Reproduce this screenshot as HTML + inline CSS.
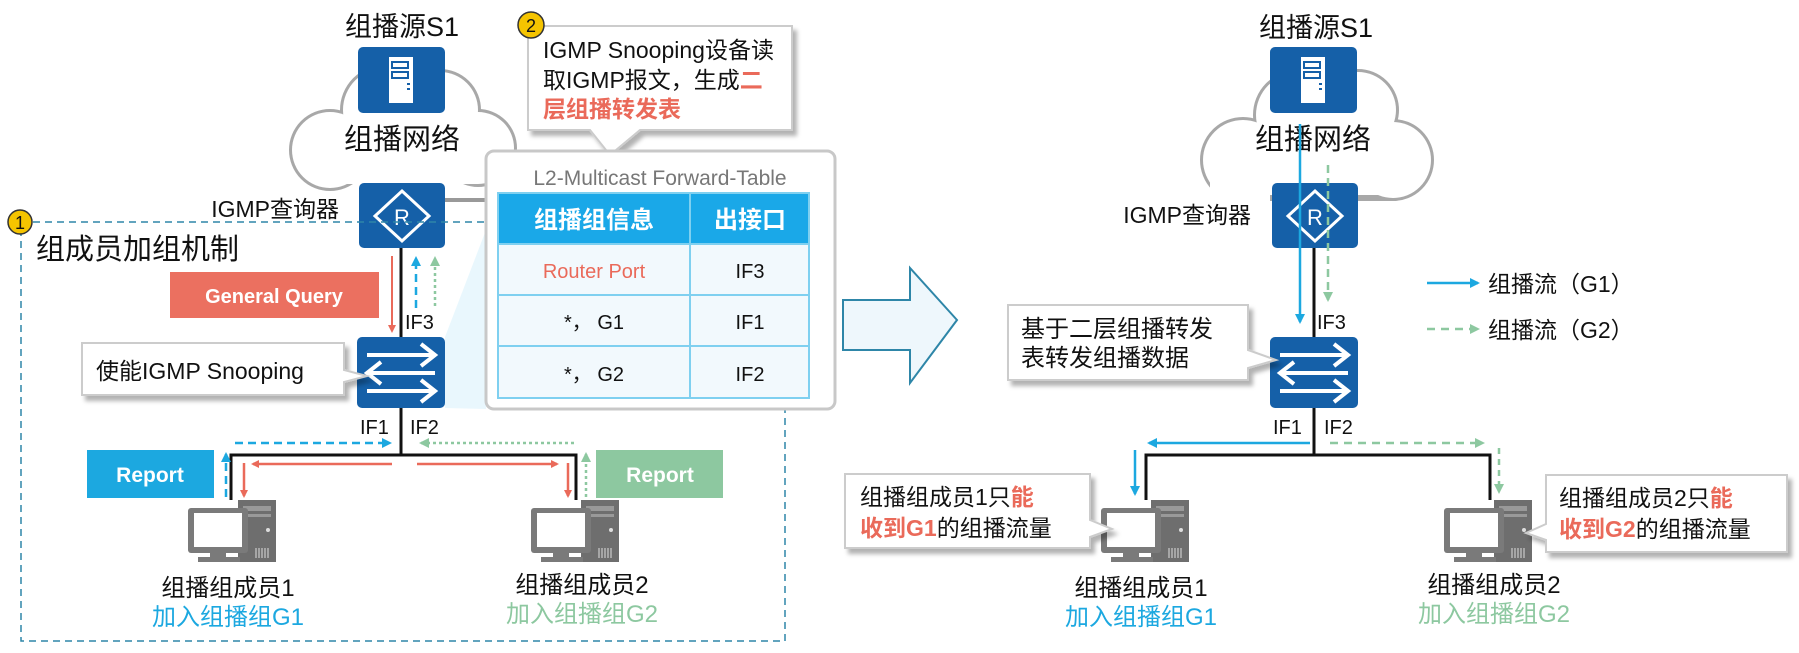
<!DOCTYPE html>
<html><head><meta charset="utf-8"><style>
body{margin:0;background:#fff}
svg text{font-family:"Liberation Sans","Noto Sans CJK SC",sans-serif}
</style></head><body>
<svg width="1799" height="648" viewBox="0 0 1799 648" xmlns="http://www.w3.org/2000/svg">
<defs>
<marker id="ar" markerWidth="8" markerHeight="8" refX="6" refY="4" orient="auto" markerUnits="userSpaceOnUse"><path d="M0,0 L8,4 L0,8z" fill="#ea6a5a"/></marker>
<marker id="ab" markerWidth="10" markerHeight="10" refX="8" refY="5" orient="auto" markerUnits="userSpaceOnUse"><path d="M0,0 L10,5 L0,10z" fill="#1ca8e0"/></marker>
<marker id="ag" markerWidth="10" markerHeight="10" refX="8" refY="5" orient="auto" markerUnits="userSpaceOnUse"><path d="M0,0 L10,5 L0,10z" fill="#8dc8a0"/></marker>
<g id="server"><rect x="0" y="0" width="87" height="66" rx="5" fill="#1560a8"/><rect x="31" y="10" width="24" height="46" fill="#fff"/><rect x="34" y="15" width="16" height="6" fill="none" stroke="#1560a8" stroke-width="2"/><rect x="34" y="25" width="16" height="6" fill="none" stroke="#1560a8" stroke-width="2"/><rect x="49" y="36" width="3" height="2" fill="#1560a8"/><rect x="49" y="41" width="3" height="2" fill="#1560a8"/></g>
<g id="router"><rect x="0" y="0" width="86" height="65" rx="5" fill="#1560a8"/><path d="M43,8 L70,33 L43,58 L16,33z" fill="none" stroke="#fff" stroke-width="3"/><text x="43" y="42" font-size="22" fill="#fff" text-anchor="middle">R</text></g>
<g id="switch"><rect x="0" y="0" width="88" height="71" rx="5" fill="#1560a8"/><g stroke="#fff" stroke-width="4" fill="none"><path d="M10,18 H76 M64,7 L78,18 L64,29"/><path d="M12,36 H78 M24,25 L10,36 L24,47"/><path d="M10,54 H76 M64,43 L78,54 L64,65"/></g></g>
<g id="pc"><rect x="50" y="0" width="38" height="62" fill="#6e6e6e"/><rect x="55" y="6" width="28" height="5" fill="#999"/><rect x="55" y="14" width="28" height="3" fill="#999"/><circle cx="80" cy="30" r="2" fill="#ddd"/><g stroke="#ddd" stroke-width="1"><path d="M68,48v10M71,48v10M74,48v10M77,48v10M80,48v10"/></g><rect x="0" y="8" width="60" height="45" rx="3" fill="#7a7a7a"/><rect x="6" y="13" width="48" height="34" fill="#fff"/><rect x="22" y="53" width="16" height="4" fill="#7a7a7a"/><rect x="10" y="57" width="42" height="5" fill="#7a7a7a"/></g>
<filter id="sh" x="-10%" y="-10%" width="130%" height="140%"><feDropShadow dx="4" dy="5" stdDeviation="2" flood-color="#000" flood-opacity="0.3"/></filter>
</defs>

<g stroke="#a8a8a8" stroke-width="6" fill="#fff">
<circle cx="330" cy="150" r="38"/><circle cx="385" cy="110" r="42"/><circle cx="440" cy="110" r="38"/><circle cx="478" cy="148" r="36"/>
</g>
<g fill="#fff"><circle cx="330" cy="150" r="38"/><circle cx="385" cy="110" r="42"/><circle cx="440" cy="110" r="38"/><circle cx="478" cy="148" r="36"/><rect x="330" y="120" width="148" height="64"/></g>
<g stroke="#a8a8a8" stroke-width="6" fill="#fff">
<circle cx="1243" cy="160" r="40"/><circle cx="1298" cy="115" r="42"/><circle cx="1358" cy="110" r="38"/><circle cx="1393" cy="160" r="38"/><rect x="1243" y="150" width="150" height="48"/>
</g>
<g fill="#fff"><circle cx="1243" cy="160" r="40"/><circle cx="1298" cy="115" r="42"/><circle cx="1358" cy="110" r="38"/><circle cx="1393" cy="160" r="38"/><rect x="1243" y="130" width="150" height="65"/></g>
<rect x="1210" y="182" width="60" height="30" fill="#fff"/>

<!-- LEFT -->
<text x="402" y="36" font-size="27" text-anchor="middle" fill="#111">组播源S1</text>
<use href="#server" x="358" y="47"/>
<text x="402" y="149" font-size="29" text-anchor="middle" fill="#111">组播网络</text>
<line x1="445" y1="200" x2="486" y2="200" stroke="#999" stroke-width="4"/>
<use href="#router" x="359" y="183"/>
<text x="339" y="217" font-size="23" text-anchor="end" fill="#111">IGMP查询器</text>
<rect x="21" y="222" width="764" height="419" fill="none" stroke="#2e86a8" stroke-width="1.5" stroke-dasharray="7,5"/>
<circle cx="20" cy="222" r="12" fill="#f5c400" stroke="#333" stroke-width="1.5"/><text x="20" y="229" font-size="18" text-anchor="middle" fill="#111">1</text>
<text x="36" y="259" font-size="29" fill="#111">组成员加组机制</text>
<polygon points="445,337 486,230 486,409 445,408" fill="#e4f5fc" opacity="0.8"/>
<line x1="401" y1="248" x2="401" y2="337" stroke="#111" stroke-width="3"/>
<line x1="392" y1="256" x2="392" y2="331" stroke="#ea6a5a" stroke-width="2" marker-end="url(#ar)"/>
<line x1="416" y1="308" x2="416" y2="258" stroke="#1ca8e0" stroke-width="2.5" stroke-dasharray="8,5" marker-end="url(#ab)"/>
<line x1="435" y1="306" x2="435" y2="258" stroke="#8dc8a0" stroke-width="2.5" stroke-dasharray="3,3" marker-end="url(#ag)"/>
<rect x="170" y="272" width="209" height="46" fill="#eb7060"/>
<text x="274" y="303" font-size="20" font-weight="bold" text-anchor="middle" fill="#fff">General Query</text>
<text x="405" y="329" font-size="20" fill="#111">IF3</text>
<use href="#switch" x="357" y="337"/>
<g filter="url(#sh)"><path d="M82,343 H344 V370 L367,376 L344,382 V395 H82z" fill="#fff" stroke="#ccc" stroke-width="2"/></g>
<text x="96" y="379" font-size="23" fill="#111">使能IGMP Snooping</text>
<text x="360" y="434" font-size="20" fill="#111">IF1</text>
<text x="410" y="434" font-size="20" fill="#111">IF2</text>
<polyline points="231,500 231,455 576,455 576,500" fill="none" stroke="#111" stroke-width="3"/>
<line x1="401" y1="408" x2="401" y2="455" stroke="#111" stroke-width="3"/>
<line x1="235" y1="443" x2="390" y2="443" stroke="#1ca8e0" stroke-width="2.5" stroke-dasharray="8,5" marker-end="url(#ab)"/>
<line x1="574" y1="443" x2="421" y2="443" stroke="#8dc8a0" stroke-width="2.5" stroke-dasharray="3,3" marker-end="url(#ag)"/>
<line x1="392" y1="464" x2="253" y2="464" stroke="#ea6a5a" stroke-width="2.5" marker-end="url(#ar)"/>
<line x1="417" y1="464" x2="557" y2="464" stroke="#ea6a5a" stroke-width="2.5" marker-end="url(#ar)"/>
<line x1="244" y1="463" x2="244" y2="496" stroke="#ea6a5a" stroke-width="2.5" marker-end="url(#ar)"/>
<line x1="568" y1="463" x2="568" y2="496" stroke="#ea6a5a" stroke-width="2.5" marker-end="url(#ar)"/>
<line x1="226" y1="497" x2="226" y2="454" stroke="#1ca8e0" stroke-width="2.5" stroke-dasharray="8,5" marker-end="url(#ab)"/>
<line x1="586" y1="497" x2="586" y2="454" stroke="#8dc8a0" stroke-width="2.5" stroke-dasharray="3,3" marker-end="url(#ag)"/>
<rect x="87" y="450" width="127" height="48" fill="#1ca8e0"/><text x="150" y="482" font-size="21" font-weight="bold" text-anchor="middle" fill="#fff">Report</text>
<rect x="596" y="450" width="127" height="48" fill="#8dc8a0"/><text x="660" y="482" font-size="21" font-weight="bold" text-anchor="middle" fill="#fff">Report</text>
<use href="#pc" x="188" y="500"/>
<use href="#pc" x="531" y="500"/>
<text x="228" y="596" font-size="24" text-anchor="middle" fill="#111">组播组成员1</text>
<text x="228" y="625" font-size="24" text-anchor="middle" fill="#1ca8e0">加入组播组G1</text>
<text x="582" y="593" font-size="24" text-anchor="middle" fill="#111">组播组成员2</text>
<text x="582" y="622" font-size="24" text-anchor="middle" fill="#8dc8a0">加入组播组G2</text>

<g filter="url(#sh)"><path d="M528,26 H792 V130 H640 L610,155 L590,130 H528z" fill="#fff" stroke="#ccc" stroke-width="2"/></g>
<circle cx="531" cy="25" r="13" fill="#f5c400" stroke="#333" stroke-width="1.5"/><text x="531" y="32" font-size="18" text-anchor="middle" fill="#111">2</text>
<text x="543" y="58" font-size="23" fill="#111">IGMP Snooping设备读</text>
<text x="543" y="88" font-size="23" fill="#111">取IGMP报文，生成<tspan fill="#ea6a5a" font-weight="bold">二</tspan></text>
<text x="543" y="117" font-size="23" font-weight="bold" fill="#ea6a5a">层组播转发表</text>

<rect x="486" y="151" width="349" height="258" rx="8" fill="#fff" stroke="#c8c8c8" stroke-width="3"/>
<text x="660" y="185" font-size="21" text-anchor="middle" fill="#777">L2-Multicast Forward-Table</text>
<rect x="498" y="193" width="311" height="51" fill="#1aa8e8"/>
<rect x="498" y="244" width="311" height="154" fill="#f2f9fd"/>
<g stroke="#7fd0f0" stroke-width="2" fill="none"><rect x="498" y="193" width="311" height="205"/><line x1="498" y1="244" x2="809" y2="244"/><line x1="498" y1="295" x2="809" y2="295"/><line x1="498" y1="346" x2="809" y2="346"/><line x1="690" y1="193" x2="690" y2="398"/></g>
<text x="594" y="228" font-size="24" font-weight="bold" text-anchor="middle" fill="#fff">组播组信息</text>
<text x="750" y="228" font-size="24" font-weight="bold" text-anchor="middle" fill="#fff">出接口</text>
<text x="594" y="278" font-size="20" text-anchor="middle" fill="#ea6a5a">Router Port</text>
<text x="750" y="278" font-size="20" text-anchor="middle" fill="#111">IF3</text>
<text x="594" y="329" font-size="20" text-anchor="middle" fill="#111">*， G1</text>
<text x="750" y="329" font-size="20" text-anchor="middle" fill="#111">IF1</text>
<text x="594" y="381" font-size="20" text-anchor="middle" fill="#111">*， G2</text>
<text x="750" y="381" font-size="20" text-anchor="middle" fill="#111">IF2</text>

<path d="M843,300 H910 V268 L957,320 L910,383 V350 H843z" fill="#eef7fc" stroke="#2e86a8" stroke-width="2"/>

<!-- RIGHT -->
<text x="1316" y="37" font-size="27" text-anchor="middle" fill="#111">组播源S1</text>
<use href="#server" x="1270" y="47"/>
<text x="1313" y="149" font-size="29" text-anchor="middle" fill="#111">组播网络</text>
<use href="#router" x="1272" y="183"/>
<text x="1251" y="223" font-size="23" text-anchor="end" fill="#111">IGMP查询器</text>
<line x1="1314" y1="248" x2="1314" y2="337" stroke="#111" stroke-width="3"/>
<line x1="1300" y1="124" x2="1300" y2="322" stroke="#1ca8e0" stroke-width="2.5" marker-end="url(#ab)"/>
<line x1="1328" y1="165" x2="1328" y2="300" stroke="#8dc8a0" stroke-width="2.5" stroke-dasharray="8,5" marker-end="url(#ag)"/>
<text x="1317" y="329" font-size="20" fill="#111">IF3</text>
<use href="#switch" x="1270" y="337"/>
<g filter="url(#sh)"><path d="M1008,305 H1248 V350 L1276,360 L1248,368 V380 H1008z" fill="#fff" stroke="#ccc" stroke-width="2"/></g>
<text x="1021" y="337" font-size="24" fill="#111">基于二层组播转发</text>
<text x="1021" y="366" font-size="24" fill="#111">表转发组播数据</text>
<line x1="1427" y1="283" x2="1478" y2="283" stroke="#1ca8e0" stroke-width="2.5" marker-end="url(#ab)"/>
<text x="1488" y="292" font-size="23" fill="#111">组播流（G1）</text>
<line x1="1427" y1="329" x2="1478" y2="329" stroke="#8dc8a0" stroke-width="2.5" stroke-dasharray="8,6" marker-end="url(#ag)"/>
<text x="1488" y="338" font-size="23" fill="#111">组播流（G2）</text>
<text x="1273" y="434" font-size="20" fill="#111">IF1</text>
<text x="1324" y="434" font-size="20" fill="#111">IF2</text>
<line x1="1314" y1="408" x2="1314" y2="455" stroke="#111" stroke-width="3"/>
<polyline points="1146,500 1146,455 1490,455 1490,500" fill="none" stroke="#111" stroke-width="3"/>
<line x1="1310" y1="443" x2="1149" y2="443" stroke="#1ca8e0" stroke-width="2.5" marker-end="url(#ab)"/>
<line x1="1330" y1="443" x2="1483" y2="443" stroke="#8dc8a0" stroke-width="2.5" stroke-dasharray="8,6" marker-end="url(#ag)"/>
<line x1="1135" y1="450" x2="1135" y2="494" stroke="#1ca8e0" stroke-width="2.5" marker-end="url(#ab)"/>
<line x1="1499" y1="448" x2="1499" y2="492" stroke="#8dc8a0" stroke-width="2.5" stroke-dasharray="6,5" marker-end="url(#ag)"/>
<use href="#pc" x="1101" y="500"/>
<use href="#pc" x="1444" y="500"/>
<g filter="url(#sh)"><path d="M845,474 H1090 V520 L1112,529 L1090,537 V548 H845z" fill="#fff" stroke="#ccc" stroke-width="2"/></g>
<text x="860" y="505" font-size="23" fill="#111">组播组成员1只<tspan fill="#ea6a5a" font-weight="bold">能</tspan></text>
<text x="860" y="536" font-size="23" fill="#111"><tspan fill="#ea6a5a" font-weight="bold">收到G1</tspan>的组播流量</text>
<g filter="url(#sh)"><path d="M1546,475 H1787 V552 H1546 V540 L1526,533 L1546,524z" fill="#fff" stroke="#ccc" stroke-width="2"/></g>
<text x="1559" y="506" font-size="23" fill="#111">组播组成员2只<tspan fill="#ea6a5a" font-weight="bold">能</tspan></text>
<text x="1559" y="537" font-size="23" fill="#111"><tspan fill="#ea6a5a" font-weight="bold">收到G2</tspan>的组播流量</text>
<text x="1141" y="596" font-size="24" text-anchor="middle" fill="#111">组播组成员1</text>
<text x="1141" y="625" font-size="24" text-anchor="middle" fill="#1ca8e0">加入组播组G1</text>
<text x="1494" y="593" font-size="24" text-anchor="middle" fill="#111">组播组成员2</text>
<text x="1494" y="622" font-size="24" text-anchor="middle" fill="#8dc8a0">加入组播组G2</text>
</svg>
</body></html>
